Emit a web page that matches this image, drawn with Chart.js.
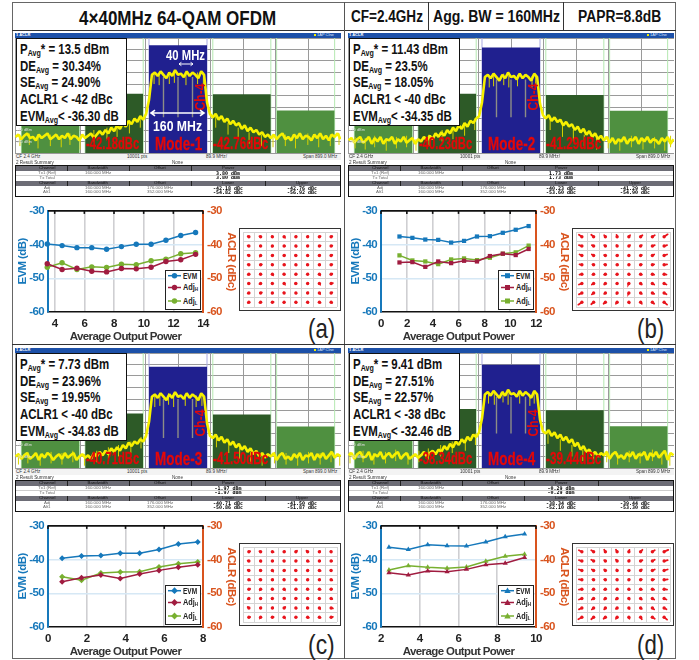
<!DOCTYPE html>
<html><head><meta charset="utf-8">
<style>
html,body{margin:0;padding:0;background:#fff;overflow:hidden}
#page{position:relative;width:699px;height:660px;font-family:"Liberation Sans",Arial,sans-serif;background:#fff}
.a{position:absolute}
.t{position:absolute;white-space:nowrap;line-height:1;transform-origin:left center}
canvas{display:block}
sub{font-size:.62em;vertical-align:-.3em;line-height:0}
</style>
<script src="https://cdn.jsdelivr.net/npm/chart.js@4/dist/chart.umd.min.js"></script>
</head><body><div id="page"></div>
<script>
/* ---------- performance curves ---------- */
const powerA=[3.5,4.5,5.5,6.5,7.5,8.5,9.5,10.5,11.5,12.5,13.5];
const evmA=[-39.8,-40.3,-40.9,-40.9,-41.4,-40.6,-39.9,-39.9,-38.7,-37.3,-36.4];
const adjHA=[-45.7,-47.4,-47,-47.9,-48.1,-47.1,-47.2,-46.7,-45,-44.5,-42.9];
const adjLA=[-46.7,-45.4,-47.4,-46.6,-46.8,-45.8,-46,-44.8,-44.3,-42.7,-42.4];
const xTicksA=[4,6,8,10,12,14];

const powerB=[1.43,2.43,3.43,4.43,5.43,6.43,7.43,8.43,9.43,10.43,11.43];
const evmB=[-37.6,-38,-38.5,-38.6,-39.4,-38.9,-37.6,-37.5,-36.5,-35.6,-34.5];
const adjHB=[-45.3,-45.2,-46.6,-45,-45.5,-44.8,-45,-43.4,-42.7,-43.1,-41.3];
const adjLB=[-43.2,-44.7,-45,-45.8,-44.4,-44.1,-44.6,-43.9,-42.7,-42.3,-40.3];
const xTicksB=[0,2,4,6,8,10,12];

const powerC=[0.73,1.73,2.73,3.73,4.73,5.73,6.73,7.73];
const evmC=[-39.6,-38.9,-38.8,-38.1,-38.1,-37,-35.4,-34.8];
const adjHC=[-46.6,-45.4,-44.6,-45.6,-44.3,-43.2,-42.3,-41.5];
const adjLC=[-45.1,-46.1,-44,-43.7,-43.6,-42.2,-41.2,-40.7];
const xTicksC=[0,2,4,6,8];

const powerD=[2.41,3.41,4.41,5.41,6.41,7.41,8.41,9.41];
const evmD=[-36.3,-37,-35.6,-35.9,-36,-34.8,-33.2,-32.4];
const adjHD=[-43.9,-44.6,-43.4,-43.6,-42.9,-41.5,-41.1,-39.4];
const adjLD=[-43.1,-41.8,-42.3,-42.6,-42.2,-40.5,-39,-38.4];
const xTicksD=[2,4,6,8,10];

const yTicks=[-60,-50,-40,-30];

/* ---------- spectrum ---------- */
const freqMHz=[-448,-440,-432,-424,-416,-408,-400,-392,-384,-376,-368,-360,-352,-344,-336,-328,-320,-312,-304,-296,-288,-280,-272,-264,-256,-248,-240,-232,-224,-216,-208,-200,-192,-184,-176,-168,-160,-152,-144,-136,-128,-120,-112,-104,-96,-88,-80,-72,-64,-56,-48,-40,-32,-24,-16,-8,0,8,16,24,32,40,48,56,64,72,80,88,96,104,112,120,128,136,144,152,160,168,176,184,192,200,208,216,224,232,240,248,256,264,272,280,288,296,304,312,320,328,336,344,352,360,368,376,384,392,400,408,416,424,432,440,448];
const traceA=[-76,-74,-78,-75,-73,-77,-76,-79,-74,-77,-75,-73,-78,-76,-74,-78,-75,-77,-73,-78,-75,-76,-79,-74,-77,
-75,-73,-77,-74,-71,-74,-70,-73,-68,-71,-66,-69,-64,-67,-62,-65,-60,-63,-58,-61,
-56,-44,
-22,-20,-23,-19,-22,-25,-20,-23,-18,-22,-21,-24,-19,-23,-20,-22,-25,-19,-22,
-46,-56,
-59,-56,-61,-58,-63,-60,-65,-62,-66,-64,-69,-66,-71,-68,-72,-70,-74,-72,-76,-74,
-77,-74,-78,-75,-73,-78,-76,-79,-74,-77,-73,-78,-75,-76,-79,-74,-77,-73,-78,-75,-79,-74,-76,-73,-78];
const traceB=[-79,-77,-81,-78,-76,-81,-79,-76,-82,-77,-80,-76,-82,-78,-79,-76,-82,-78,-80,-76,-81,-79,-77,-82,-78,
-80,-76,-79,-75,-78,-73,-76,-72,-75,-70,-73,-68,-71,-66,-69,-64,-67,-62,-64,-60,
-58,-46,
-24,-22,-25,-21,-24,-27,-22,-25,-20,-24,-23,-26,-21,-25,-22,-24,-27,-21,-24,
-47,-57,
-60,-57,-62,-59,-63,-61,-66,-63,-67,-65,-70,-67,-72,-69,-74,-71,-76,-73,-78,-75,
-79,-76,-81,-77,-82,-78,-80,-76,-82,-78,-79,-76,-82,-77,-80,-76,-81,-78,-79,-82,-77,-80,-76,-82,-78];
const traceC=[-80,-78,-82,-79,-77,-82,-80,-77,-83,-78,-81,-77,-79,-83,-80,-78,-82,-77,-81,-79,-77,-83,-80,-78,-81,
-79,-82,-77,-80,-76,-79,-75,-78,-73,-76,-72,-75,-70,-73,-68,-71,-67,-69,-65,-67,
-62,-50,
-28,-26,-29,-25,-28,-31,-26,-29,-24,-28,-27,-30,-25,-29,-26,-28,-31,-25,-28,
-51,-62,
-64,-61,-66,-63,-68,-65,-70,-67,-72,-69,-74,-71,-76,-73,-78,-75,-80,-77,-81,-78,
-80,-77,-83,-79,-77,-82,-80,-83,-78,-81,-77,-83,-79,-80,-77,-83,-78,-81,-77,-82,-79,-76,-81,-78,-80];
const traceD=[-79,-77,-82,-78,-76,-81,-80,-76,-83,-78,-80,-76,-82,-79,-77,-81,-78,-76,-82,-79,-77,-82,-80,-78,-81,
-79,-76,-80,-77,-75,-78,-74,-76,-71,-74,-69,-72,-67,-70,-65,-68,-63,-66,-61,-63,
-59,-47,
-26,-24,-27,-23,-26,-29,-24,-27,-22,-26,-25,-28,-23,-27,-24,-26,-29,-23,-26,
-48,-58,
-60,-57,-62,-59,-64,-61,-66,-63,-68,-65,-71,-68,-74,-71,-76,-74,-79,-76,-80,-77,
-79,-76,-82,-78,-76,-81,-79,-82,-77,-80,-76,-82,-78,-79,-76,-83,-77,-80,-76,-81,-78,-75,-83,-77,-79];
/* downward noise spikes of each trace: frequency and lowest level */
const spikeFreqA=[-436,-410,-386,-352,-322,-298,-270,-232,-196,-168,-134,-104,-66,-52,-24,-10,22,54,70,104,138,166,196,230,262,296,324,358,388,420,444];
const spikeLowA=[-84,-83,-86,-84,-85,-83,-87,-80,-78,-76,-73,-68,-30,-31,-30,-29,-31,-30,-30,-68,-74,-78,-82,-84,-85,-84,-86,-83,-85,-84,-83];
const spikeFreqB=[-430,-402,-376,-344,-316,-288,-262,-226,-190,-160,-128,-100,-60,-48,-20,-6,18,58,68,108,142,172,202,236,268,300,332,364,396,424,440];
const spikeLowB=[-86,-87,-85,-88,-86,-85,-88,-84,-80,-78,-75,-70,-33,-32,-31,-33,-32,-33,-32,-70,-76,-80,-84,-87,-86,-88,-85,-87,-86,-88,-85];
const spikeFreqC=[-440,-414,-380,-350,-320,-290,-258,-224,-192,-164,-130,-102,-64,-50,-26,-12,20,50,66,106,140,170,200,232,266,298,330,360,392,422,446];
const spikeLowC=[-87,-86,-88,-86,-87,-85,-88,-85,-82,-80,-77,-73,-37,-36,-35,-37,-36,-37,-36,-72,-77,-82,-86,-88,-86,-87,-88,-86,-87,-85,-88];
const spikeFreqD=[-444,-408,-378,-346,-318,-284,-254,-228,-194,-162,-126,-98,-62,-46,-22,-8,24,52,64,102,136,168,198,228,264,294,326,356,390,416,438];
const spikeLowD=[-86,-85,-87,-86,-84,-87,-85,-83,-80,-77,-75,-70,-34,-35,-33,-35,-34,-36,-34,-69,-75,-80,-84,-86,-85,-87,-85,-86,-84,-87,-88];
const notchFreqs=[-40,0,40];
const notchTop=[-24,-26,-30,-28];
const notchFloor=[-59,-59,-64,-60];
const channelSpans=[[-432,-272],[-256,-96],[-80,80],[96,256],[272,432]];
const channelColors=["#4f9040","#2d5a27","#20208f","#2d5a27","#4f9040"];
const limitLines=[-432,-272,-256,-96,96,256,272,432];
const channelPowerA=[-51.02,-38.38,3.8,-38.96,-53.12];
const channelPowerB=[-51.87,-38.5,1.73,-39.56,-53.17];
const channelPowerC=[-52.83,-42.68,-1.97,-43.47,-53.84];
const channelPowerD=[-52.39,-38.63,-0.29,-39.73,-53.59];
const specXTicks=[-449.5,-359.6,-269.7,-179.8,-89.9,0,89.9,179.8,269.7,359.6,449.5];
const specYTicks=[10,0,-10,-20,-30,-40,-50,-60,-70,-80,-90];

/* ---------- constellations: symbol levels and tail of each symbol cloud ---------- */
const qamLevels=[-7,-5,-3,-1,1,3,5,7];
const tailIA=[-.2,-.2,-.1,.1,.1,.1,.2,.2, -.2,-.1,-.1,.1,.1,.1,.2,.2, -.2,-.1,.1,.1,-.1,.1,.1,.2, -.2,.2,-.1,.1,.1,-.1,.1,.2, -.2,-.1,.1,-.1,.1,.1,.1,.2, -.1,-.2,-.1,.1,-.1,.1,.1,.3, -.2,.2,-.1,-.1,.1,.1,.1,.2, -.2,-.2,.2,-.1,.1,.1,.2,.2];
const tailQA=[.1,.1,.1,-.1,.1,.1,.1,.1, .1,.1,-.1,.1,-.1,.1,.1,.1, .1,-.1,.1,.1,.1,-.1,.1,.1, .1,.1,.1,.1,-.1,.1,.1,.1, -.1,.1,-.1,.1,.1,.1,-.1,.1, .1,-.1,.1,-.1,.1,.1,-.1,.1, -.1,.1,-.1,.1,-.1,.1,-.1,.1, -.1,-.1,.1,-.1,-.1,-.1,-.1,-.1];
const tailIB=[-.5,-.4,-.2,-.1,.2,.3,.4,.6, -.5,-.3,-.2,-.1,.2,.2,.4,.5, -.4,-.3,-.2,.1,.1,.2,.3,.5, -.4,-.2,-.2,.1,.1,.2,.3,.5, -.4,-.2,-.2,-.1,.1,.2,.3,.4, -.5,-.3,-.2,-.1,-.1,.2,.3,.4, -.5,-.3,-.2,-.1,-.1,.2,.3,.4, -.6,-.4,-.3,-.2,.1,.2,.3,.5];
const tailQB=[.4,.4,.3,.4,.3,.3,.3,.5, .2,.2,.2,.2,.2,.2,.2,.2, .2,.2,.1,.1,.1,.1,.2,.2, .1,.1,.1,.1,.1,.1,.1,.1, -.1,-.1,-.1,-.1,-.1,-.1,-.1,-.1, -.2,-.2,-.2,-.1,-.2,-.2,-.2,-.2, -.3,-.3,-.2,-.2,-.2,-.2,-.2,-.3, -.5,-.4,-.3,-.3,-.2,-.3,-.3,-.5];
const tailIC=[.2,-.2,.2,.1,.2,-.2,.1,-.1, -.2,.1,.1,-.1,.1,.2,.1,.1, -.2,-.1,.1,.1,-.1,.1,.2,-.1, .2,-.2,.1,-.1,.1,.1,.1,.2, .2,-.1,-.1,.1,.1,-.1,.2,.1, -.2,.1,-.1,.1,.1,.1,-.1,.2, -.2,.1,.1,.2,.1,-.1,.1,.3, .2,-.1,.2,.1,.1,.2,.2,.3];
const tailQC=[.1,.1,-.1,.1,.2,.2,.1,.1, .1,-.1,.1,.1,.1,-.1,.1,.1, .1,.1,-.1,.1,.1,.1,-.1,.1, -.1,.1,.1,.1,-.1,.1,.1,-.1, .1,-.1,.1,-.1,.1,.1,-.1,.1, -.1,.1,-.1,.1,.1,-.1,.1,-.1, .2,.1,.1,.2,-.1,.1,-.1,-.1, .1,-.1,.1,-.1,.1,-.1,-.1,.1];
const tailID=[-.5,-.4,-.2,-.2,.1,.3,.4,.7, -.5,-.4,-.2,-.2,.1,.3,.4,.6, -.5,-.3,-.2,-.1,.1,.2,.4,.6, -.5,-.2,-.2,-.1,.1,.2,.3,.6, -.5,-.2,-.2,-.1,.1,.2,.3,.5, -.5,-.3,-.2,-.2,.1,.2,.3,.4, -.5,-.3,-.2,-.2,.1,.2,.3,.4, -.6,-.4,-.3,-.2,.1,.2,.4,.5];
const tailQD=[.3,.3,.4,.4,.4,.4,.3,.4, .2,.3,.2,.3,.2,.2,.3,.2, .2,.2,.2,.2,.1,.2,.2,.2, .1,.1,.1,.1,.1,.1,.1,.1, -.1,-.1,-.1,-.1,-.1,-.1,-.1,-.1, -.2,-.2,-.2,-.2,-.2,-.2,-.2,-.2, -.3,-.3,-.3,-.2,-.2,-.2,-.3,-.3, -.4,-.4,-.3,-.3,-.3,-.4,-.3,-.5];

/* ---------- texts ---------- */
const panelLetters=["(a)","(b)","(c)","(d)"];
const modeLabels=["Mode-1","Mode-2","Mode-3","Mode-4"];
const lowerLabels=["-42.18dBc","-40.23dBc","-40.71dBc","-38.34dBc"];
const upperLabels=["-42.76dBc","-41.29dBc","-41.50dBc","-39.44dBc"];
const infoP=["13.5 dBm","11.43 dBm","7.73 dBm","9.41 dBm"];
const infoDE=["30.34%","23.5%","23.96%","27.51%"];
const infoSE=["24.90%","18.05%","19.95%","22.57%"];
const infoACLR=["-42 dBc","-40 dBc","-40 dBc","-38 dBc"];
const infoEVM=["-36.30 dB","-34.35 dB","-34.83 dB","-32.46 dB"];
const tableTx=["3.80 dBm","1.73 dBm","-1.97 dBm","-0.29 dBm"];
const tableAdj=[["-42.18 dBc","-42.76 dBc"],["-40.23 dBc","-41.29 dBc"],["-40.71 dBc","-41.50 dBc"],["-38.34 dBc","-39.44 dBc"]];
const tableAlt=[["-54.82 dBc","-56.92 dBc"],["-53.60 dBc","-54.90 dBc"],["-50.86 dBc","-51.87 dBc"],["-52.10 dBc","-53.30 dBc"]];

const BLUE="#1678bb",ORANGE="#d9541e",MAROON="#a01c40",LIME="#78b030",RED="#e40808";
const FONT='"Liberation Sans",Arial,sans-serif';
const page=document.getElementById('page');
Chart.defaults.animation=false;
Chart.defaults.responsive=false;
Chart.defaults.plugins.legend.display=false;
Chart.defaults.plugins.tooltip.enabled=false;

function box(x,y,w,h,css){const d=document.createElement('div');d.className='a';
 d.style.cssText+=`left:${x}px;top:${y}px;width:${w}px;height:${h}px;`+(css||'');page.appendChild(d);return d;}
function text(x,y,html,o){o=o||{};const s=document.createElement('span');s.className='t';
 s.innerHTML=html;s.style.fontSize=(o.size||10)+'px';s.style.fontWeight=o.bold?'700':'400';
 s.style.color=o.color||'#000';if(o.font)s.style.fontFamily=o.font;
 if(o.stroke)s.style.webkitTextStroke=o.stroke;
 s.style.left=x+'px';s.style.top=y+'px';page.appendChild(s);
 const w=s.offsetWidth;const k=o.w?o.w/w:1;
 const off=o.center?-(o.w||w)/2:0;
 s.style.transform=`translate(${off}px,-50%) scaleX(${k})`;
 return s;}
function canvasAt(x,y,w,h){const c=document.createElement('canvas');c.width=w;c.height=h;
 c.style.cssText=`position:absolute;left:${x}px;top:${y}px;width:${w}px;height:${h}px`;page.appendChild(c);return c;}

function spectrum(i,dx,dy,trace,power,spF,spL){
 const ds=[];
 ds.push({data:freqMHz.map((f,k)=>({x:f,y:trace[k]})),borderColor:'#f6f000',borderWidth:2.6,pointRadius:0,tension:0,borderJoinStyle:'bevel'});
 const sp=[];spF.forEach((f,k)=>{sp.push({x:f,y:spL[k]},{x:f,y:spL[k]+10},{x:f,y:null});});
 ds.push({data:sp,borderColor:'#d6d200',borderWidth:1,pointRadius:0});
 const nd=[];notchFreqs.forEach(f=>{nd.push({x:f,y:notchTop[i]},{x:f,y:notchFloor[i]},{x:f,y:null});});
 ds.push({data:nd,borderColor:'#8d8d86',borderWidth:1.4,pointRadius:0});
 channelSpans.forEach((s,k)=>ds.push({data:[{x:s[0],y:power[k]},{x:s[1],y:power[k]}],fill:'start',backgroundColor:channelColors[k],borderWidth:0,pointRadius:0}));
 const ll=[];limitLines.forEach(f=>{ll.push({x:f,y:-90},{x:f,y:10},{x:f,y:null});});
 ds.push({data:ll,borderColor:'#b4e8b0',borderWidth:1,pointRadius:0});
 ds.push({data:[{x:-80,y:-90},{x:-80,y:10},{x:80,y:null},{x:80,y:-90},{x:80,y:10}],borderColor:'#a9a9e0',borderWidth:1,pointRadius:0});
 new Chart(canvasAt(15+dx,38+dy,326,115),{type:'line',data:{datasets:ds},options:{
  layout:{padding:0},
  scales:{
   x:{type:'linear',min:-449.5,max:449.5,afterBuildTicks:s=>{s.ticks=specXTicks.map(v=>({value:v}));},ticks:{display:false},grid:{color:'#9a9a9a',lineWidth:1,drawTicks:false},border:{display:false}},
   y:{min:-90,max:10,afterBuildTicks:s=>{s.ticks=specYTicks.map(v=>({value:v}));},ticks:{display:false},grid:{color:'#9a9a9a',lineWidth:1,drawTicks:false},border:{display:false}}
  }}});
}

const topSpine={id:'topSpine',
 beforeDraw(c){c.ctx.letterSpacing='-0.6px';},
 afterDraw(c){const a=c.chartArea,g=c.ctx;g.save();g.strokeStyle='#111';g.lineWidth=1.6;
 g.beginPath();g.moveTo(a.left,a.top);g.lineTo(a.right,a.top);g.stroke();
 c.scales.x.ticks.forEach(t=>{const x=c.scales.x.getPixelForValue(t.value);g.beginPath();g.moveTo(x,a.top);g.lineTo(x,a.top+3);g.stroke();});
 g.restore();}};

function perfChart(dx,dy,power,evm,adjH,adjL,xt,marker,minX,maxX){
 const mk=(yv,c,axis)=>({data:power.map((p,k)=>({x:p,y:yv[k]})),borderColor:c,backgroundColor:c,borderWidth:1.5,pointStyle:marker,pointRadius:marker==='circle'?2.7:3,pointBorderWidth:0,yAxisID:axis,tension:0,clip:false});
 const tf={family:FONT,size:11.5,weight:'bold'};
 new Chart(canvasAt(14+dx,200+dy,226,144),{type:'line',
  data:{datasets:[mk(evm,BLUE,'y'),mk(adjH,MAROON,'y1'),mk(adjL,LIME,'y1')]},
  plugins:[topSpine],
  options:{layout:{padding:{top:7,right:0,left:0,bottom:0}},
  scales:{
   x:{type:'linear',min:minX,max:maxX,afterBuildTicks:s=>{s.ticks=xt.map(v=>({value:v}));},
      afterFit:s=>{s.height=32;},
      ticks:{color:'#222',font:tf,padding:5,maxRotation:0,callback:v=>String(v)},
      grid:{color:'#cfcfd2',lineWidth:1.6,drawTicks:false},border:{color:'#111',width:1.6},
      title:{display:true,text:'Average Output Power',color:'#333',font:tf,padding:{top:0,bottom:0}}},
   y:{position:'left',min:-60,max:-30,afterBuildTicks:s=>{s.ticks=yTicks.map(v=>({value:v}));},
      afterFit:s=>{s.width=34;},
      ticks:{color:BLUE,font:tf,padding:4,callback:v=>String(v)},
      grid:{color:c=>(c.tick&&(c.tick.value===-40||c.tick.value===-50))?'#d6e8f5':'rgba(0,0,0,0)',lineWidth:1.6,drawTicks:false},
      border:{color:BLUE,width:2},
      title:{display:true,text:'EVM (dB)',color:BLUE,font:tf,padding:2}},
   y1:{position:'right',min:-60,max:-30,afterBuildTicks:s=>{s.ticks=yTicks.map(v=>({value:v}));},
      afterFit:s=>{s.width=37;},
      ticks:{color:ORANGE,font:tf,padding:4,callback:v=>String(v)},
      grid:{display:false,drawTicks:false},border:{color:ORANGE,width:2},
      title:{display:true,text:'ACLR (dBc)',color:ORANGE,font:tf,padding:2}}
  }}});
}

function constellation(dx,dy,tailI,tailQ){
 const dots=[],tails=[];
 qamLevels.slice().reverse().forEach((q,r)=>qamLevels.forEach((p,c)=>{
  const k=r*8+c;dots.push({x:p,y:q});
  tails.push({x:p,y:q},{x:p+tailI[k],y:q+tailQ[k]},{x:p,y:null});
 }));
 new Chart(canvasAt(239+dx,228+dy,102,83),{type:'line',data:{datasets:[
   {data:dots,showLine:false,pointRadius:1.7,pointBorderWidth:0,backgroundColor:'#e8141c'},
   {data:tails,borderColor:'#e8141c',borderWidth:1.8,pointRadius:0,borderCapStyle:'round'}]},
  options:{layout:{padding:0},scales:{
   x:{type:'linear',min:-8,max:8,ticks:{display:false,stepSize:2},grid:{color:'#d4d4d4',lineWidth:1,drawTicks:false},border:{display:false}},
   y:{min:-8,max:8,ticks:{display:false,stepSize:2},grid:{color:'#d4d4d4',lineWidth:1,drawTicks:false},border:{display:false}}
  }}});
 box(239+dx,228+dy,100,81,'border:1.5px solid #333;');
}

function legendBox(dx,dy,marker){
 box(165+dx,270+dy,34,38,'border:1.6px solid #222;background:#fff;');
 const shape=(cx,cy,c)=>{
  if(marker==='circle')return `<circle cx="${cx}" cy="${cy}" r="2.7" fill="${c}"/>`;
  if(marker==='rect')return `<rect x="${cx-2.5}" y="${cy-2.5}" width="5" height="5" fill="${c}"/>`;
  if(marker==='rectRot')return `<path d="M${cx} ${cy-3.4}L${cx+3.4} ${cy}L${cx} ${cy+3.4}L${cx-3.4} ${cy}Z" fill="${c}"/>`;
  return `<path d="M${cx} ${cy-3.2}L${cx+3.2} ${cy+2.4}L${cx-3.2} ${cy+2.4}Z" fill="${c}"/>`;};
 const rows=[[275.7,BLUE],[287.5,MAROON],[301,LIME]];
 const s=document.createElementNS('http://www.w3.org/2000/svg','svg');
 s.setAttribute('class','a');s.style.cssText=`left:${167+dx}px;top:${270+dy}px;`;s.setAttribute('width',16);s.setAttribute('height',38);
 s.innerHTML=rows.map(r=>`<line x1="1" x2="14" y1="${r[0]-270}" y2="${r[0]-270}" stroke="${r[1]}" stroke-width="1.5"/>`+shape(7.5,r[0]-270,r[1])).join('');
 page.appendChild(s);
 text(183+dx,275.7+dy,'EVM',{size:9,bold:true,color:'#222',w:14.5});
 text(183+dx,287+dy,'Adj<sub>H</sub>',{size:9,bold:true,color:'#222',w:15.5});
 text(183+dx,301+dy,'Adj<sub>L</sub>',{size:9,bold:true,color:'#222',w:14.5});
}

function chrome(i,dx,dy){
 box(15+dx,33+dy,326,5,'background:#1c50a8;');
 text(16+dx,35.4+dy,'1 ACLR',{size:4,bold:true,color:'#fff'});
 box(314+dx,34.3+dy,2,2,'background:#f4ee00;');
 text(317+dx,35.4+dy,'1AP Clrw',{size:4,color:'#dfe8ff'});
 box(15+dx,153+dy,326,7,'background:#f3f3f3;');
 box(15+dx,153+dy,326,.8,'background:#999;');
 text(16+dx,156.5+dy,'CF 2.4 GHz',{size:4.6,color:'#333'});
 text(127+dx,156.5+dy,'10001 pts',{size:4.6,color:'#333'});
 text(206+dx,156.5+dy,'89.9 MHz/',{size:4.6,color:'#333'});
 text(303+dx,156.5+dy,'Span 899.0 MHz',{size:4.6,color:'#333'});
 text(17+dx,130+dy,'-70 dBm',{size:4,color:'#ddd'});
 text(17+dx,142+dy,'-80 dBm',{size:4,color:'#ddd'});
 text(16+dx,162.5+dy,'2 Result Summary',{size:4.6,color:'#333'});
 text(172+dx,162.5+dy,'None',{size:4.6,color:'#333'});
 box(15+dx,165+dy,324,29.5,'border:1.2px solid #111;');
 box(16+dx,166+dy,324,4.5,'background:#6d6d76;');
 box(16+dx,181+dy,324,4.5,'background:#6d6d76;');
 [67,129,191,265].forEach(x=>{box(x+dx,166+dy,.8,4.5,'background:#222;');box(x+dx,181+dy,.8,4.5,'background:#222;');});
 const col=[47,98,160,228,302];
 const th=(c,y,s)=>text(col[c]+dx,y+dy,s,{size:4.4,color:'#111',center:true});
 const td=(c,y,s)=>text(col[c]+dx,y+dy,s,{size:4.4,color:'#666',center:true});
 const tv=(c,y,s)=>text(col[c]+dx,y+dy,s,{size:5,bold:true,color:'#000',font:'"DejaVu Sans Mono",monospace',center:true});
 th(0,168.3,'Channel');th(1,168.3,'Bandwidth');th(2,168.3,'Offset');th(3,168.3,'Power');
 td(0,173,'Tx1 (Ref)');td(1,173,'160.000 MHz');tv(3,172.8,tableTx[i]);
 td(0,177.6,'Tx Total');tv(3,177.4,tableTx[i]);
 box(16+dx,175+dy,324,.5,'background:#ccc;');
 th(0,183.2,'Channel');th(1,183.2,'Bandwidth');th(2,183.2,'Offset');th(3,183.2,'Lower');th(4,183.2,'Upper');
 td(0,188,'Adj');td(1,188,'160.000 MHz');td(2,188,'176.000 MHz');tv(3,188,tableAdj[i][0]);tv(4,188,tableAdj[i][1]);
 td(0,192.3,'Alt1');td(1,192.3,'160.000 MHz');td(2,192.3,'352.000 MHz');tv(3,192.3,tableAlt[i][0]);tv(4,192.3,tableAlt[i][1]);
 box(16+dx,38+dy,109,86,'background:#fff;border:1.4px solid #111;');
 const lh=[49,66,82.3,99,115.7];
 const lines=[`P<sub>Avg</sub>* = ${infoP[i]}`,`DE<sub>Avg</sub> = ${infoDE[i]}`,`SE<sub>Avg</sub> = ${infoSE[i]}`,`ACLR1 &lt; ${infoACLR[i]}`,`EVM<sub>Avg</sub>&lt; ${infoEVM[i]}`];
 lines.forEach((l,k)=>{const s=text(19.5+dx,lh[k]+dy,l,{size:14.5,bold:true,color:'#111'});
   s.style.transform=`translate(0,-50%) scaleX(0.79)`;});
 text(86+dx,143+dy,lowerLabels[i],{size:17,bold:true,color:RED,w:53,stroke:'.3px '+RED});
 text(213+dx,143+dy,upperLabels[i],{size:17,bold:true,color:RED,w:55,stroke:'.3px '+RED});
 text(154.5+dx,143+dy,modeLabels[i],{size:19,bold:true,color:RED,w:47.5,stroke:'.3px '+RED});
 const ch=text(199.5+dx,(i<2?97:108)+dy,'Ch-4',{size:14,bold:true,color:RED});
 ch.style.transformOrigin='center center';ch.style.transform='translate(-50%,-50%) rotate(-90deg) scaleX(.86)';
 text(308+dx+(i%2?-4:0),(i<2?329:330)+(i<2?0:dy),panelLetters[i],{size:28,color:'#222',w:27});
}

function annotA(){
 text(166,55,'40 MHz',{size:14.5,bold:true,color:'#fff',w:39});
 text(153,126,'160 MHz',{size:14.5,bold:true,color:'#fff',w:49});
 const s=document.createElementNS('http://www.w3.org/2000/svg','svg');
 s.setAttribute('class','a');s.style.cssText='left:145px;top:55px;';s.setAttribute('width',66);s.setAttribute('height',65);
 const arrow=(a,b,y,sz)=>`<path d="M${a+sz} ${y-sz*.7}L${a} ${y}L${a+sz} ${y+sz*.7}M${a} ${y}H${b}M${b-sz} ${y-sz*.7}L${b} ${y}L${b-sz} ${y+sz*.7}" fill="none" stroke="#fff" stroke-width="${sz>3?1.6:1}"/>`;
 s.innerHTML=arrow(34,48,9,2.4)+arrow(6,59,58,4);
 page.appendChild(s);
}

box(12,2,664,657,'border:1.6px solid #666;box-sizing:border-box;');
box(12,30,664,1.4,'background:#333;');
box(344,2,1.2,657,'background:#555;');
box(12,344,664,1.4,'background:#333;');
box(428,2,1,28,'background:#333;');
box(563,2,1,28,'background:#333;');
text(79,16.5,'4×40MHz 64-QAM OFDM',{size:21,bold:true,color:'#111',w:197});
text(351,16.5,'CF=2.4GHz',{size:16,bold:true,color:'#111',w:72});
text(432.7,16.5,'Agg. BW = 160MHz',{size:16,bold:true,color:'#111',w:126.5});
text(578,16.5,'PAPR=8.8dB',{size:16,bold:true,color:'#111',w:83});

const DX=333,DY=315;
spectrum(0,0,0,traceA,channelPowerA,spikeFreqA,spikeLowA);
spectrum(1,DX,0,traceB,channelPowerB,spikeFreqB,spikeLowB);
spectrum(2,0,DY,traceC,channelPowerC,spikeFreqC,spikeLowC);
spectrum(3,DX,DY,traceD,channelPowerD,spikeFreqD,spikeLowD);
chrome(0,0,0);chrome(1,DX,0);chrome(2,0,DY);chrome(3,DX,DY);
annotA();
perfChart(0,0,powerA,evmA,adjHA,adjLA,xTicksA,'circle',3.55,14);
perfChart(DX,0,powerB,evmB,adjHB,adjLB,xTicksB,'rect',0,12);
perfChart(0,DY,powerC,evmC,adjHC,adjLC,xTicksC,'rectRot',0,8);
perfChart(DX,DY,powerD,evmD,adjHD,adjLD,xTicksD,'triangle',2,10);
legendBox(0,0,'circle');legendBox(DX,0,'rect');legendBox(0,DY,'rectRot');legendBox(DX,DY,'triangle');
constellation(0,0,tailIA,tailQA);
constellation(DX,0,tailIB,tailQB);
constellation(0,DY,tailIC,tailQC);
constellation(DX,DY,tailID,tailQD);
</script></body></html>
